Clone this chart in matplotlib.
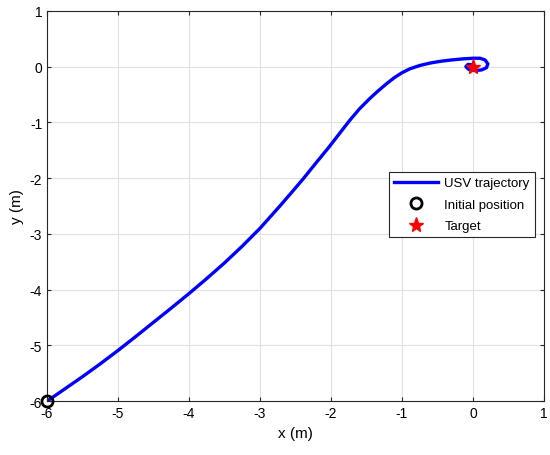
import matplotlib
matplotlib.use("Agg")
import matplotlib.pyplot as plt

plt.rcParams["font.family"] = ["Liberation Sans", "DejaVu Sans"]
plt.rcParams["axes.unicode_minus"] = False

# trajectory points
traj_x = [-6.0, -5.75, -5.5, -5.25, -5.0, -4.75, -4.5, -4.25, -4.0, -3.75,
          -3.5, -3.25, -3.0, -2.86, -2.72, -2.55, -2.39, -2.2, -2.02, -1.88,
          -1.74, -1.6, -1.46, -1.34, -1.22, -1.11, -1.0, -0.89, -0.75, -0.6,
          -0.45, -0.3, -0.15, 0.0, 0.1, 0.17, 0.21, 0.19, 0.12, 0.02, -0.06,
          -0.1, -0.07, 0.0, 0.0]
traj_y = [-6.0, -5.78, -5.56, -5.33, -5.09, -4.84, -4.585, -4.33, -4.07, -3.8,
          -3.52, -3.22, -2.9, -2.7, -2.5, -2.25, -2.01, -1.71, -1.43, -1.2,
          -0.97, -0.76, -0.58, -0.44, -0.31, -0.2, -0.11, -0.04, 0.02, 0.065,
          0.097, 0.12, 0.138, 0.15, 0.15, 0.12, 0.05, -0.02, -0.06, -0.07,
          -0.05, 0.0, 0.04, 0.03, 0.0]
start = (-6.0, -6.0)
target = (0.0, 0.0)

fig = plt.figure(figsize=(5.5, 4.56), dpi=100)
ax = fig.add_axes([0.0855, 0.118, 0.9035, 0.856])

ax.plot(traj_x, traj_y, color=(0, 0, 1), lw=2.4, label="USV trajectory",
        solid_joinstyle="round")
ax.plot(start[0], start[1], "o", mfc="none", mec="k", mew=2, ms=8,
        label="Initial position", zorder=4, clip_on=False)
ax.plot(target[0], target[1], "*", color="red", ms=11,
        label="Target", zorder=5)

ax.set_xlim(-6, 1)
ax.set_ylim(-6, 1)
ax.set_xticks(range(-6, 2))
ax.set_yticks(range(-6, 2))
ax.grid(True, color="#e0e0e0", lw=0.8)
ax.set_axisbelow(True)
ax.tick_params(direction="in", top=True, right=True, labelsize=10,
               color="#262626", length=3)
for s in ax.spines.values():
    s.set_color("#262626")
    s.set_linewidth(0.8)

ax.set_xlabel("x (m)", fontsize=11)
ax.set_ylabel("y (m)", fontsize=11)

leg = ax.legend(loc="upper right", bbox_to_anchor=(0.982, 0.588),
                fontsize=9.5, fancybox=False, framealpha=1,
                edgecolor="#262626", borderpad=0.4, labelspacing=0.7,
                handlelength=3.3, handletextpad=0.5, borderaxespad=0)
leg.get_frame().set_linewidth(0.8)

fig.savefig("out.png", dpi=100)
